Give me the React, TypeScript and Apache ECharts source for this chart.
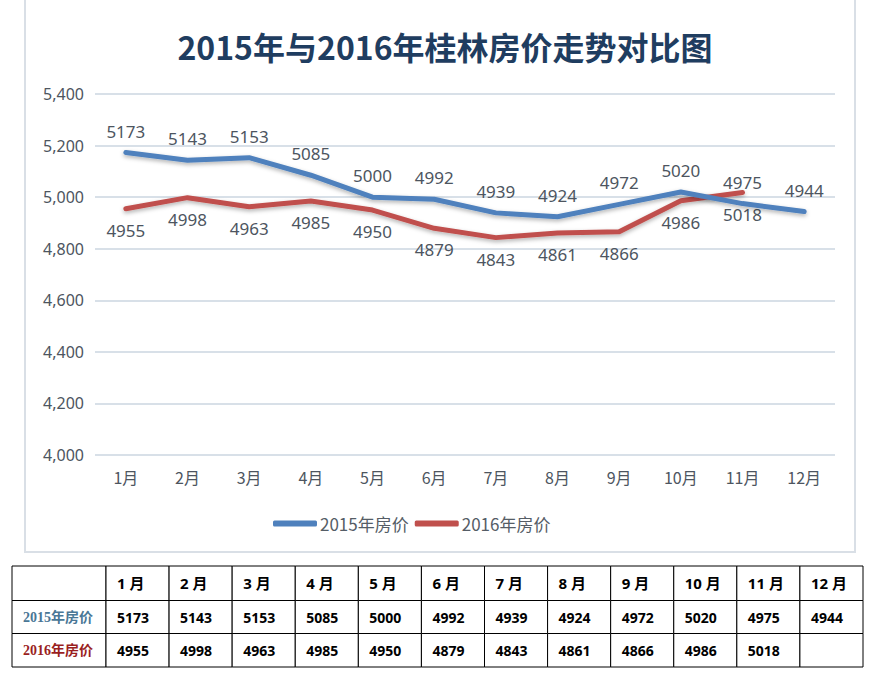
import React, { useEffect, useRef } from "react";
import * as echarts from "echarts";

const titleText = "2015年与2016年桂林房价走势对比图";
const months = ["1月", "2月", "3月", "4月", "5月", "6月", "7月", "8月", "9月", "10月", "11月", "12月"];
const seriesNames = ["2015年房价", "2016年房价"];
const price2015 = [5173, 5143, 5153, 5085, 5000, 4992, 4939, 4924, 4972, 5020, 4975, 4944];
const price2016 = [4955, 4998, 4963, 4985, 4950, 4879, 4843, 4861, 4866, 4986, 5018];
const yMin = 4000;
const yMax = 5400;
const yStep = 200;

const BLUE = "#4f81bd";
const RED = "#c0504d";

function buildTable() {
  const x0 = 12;
  const firstW = 94;
  const x1 = 863;
  const colW = (x1 - x0 - firstW) / months.length;
  const rowsY = [566, 600.5, 633.5, 667];
  const els: any[] = [];
  const colXs: number[] = [x0, x0 + firstW];
  for (let i = 1; i <= months.length; i++) colXs.push(x0 + firstW + colW * i);
  const rowsData: { label: string; color: string; values: (number | string)[] }[] = [
    { label: "", color: "#000", values: months.map((m) => m.replace("月", " 月")) },
    { label: seriesNames[0], color: "#4a7796", values: price2015 },
    { label: seriesNames[1], color: "#9a1f1f", values: price2016 },
  ];
  for (let r = 0; r < 3; r++) {
    const yTop = rowsY[r];
    const h = rowsY[r + 1] - rowsY[r];
    for (let c = 0; c < colXs.length - 1; c++) {
      els.push({
        type: "rect",
        shape: { x: colXs[c], y: yTop, width: colXs[c + 1] - colXs[c], height: h },
        style: { fill: "#ffffff", stroke: "#000000", lineWidth: 1 },
        z: 1,
      });
      let txt = "";
      let color = "#000000";
      let fam = "'Noto Sans', 'Noto Sans CJK SC', sans-serif";
      let size = r === 0 ? 15 : 14;
      if (c === 0) {
        txt = rowsData[r].label;
        color = rowsData[r].color;
        fam = "'Liberation Serif', 'Noto Sans CJK SC', serif";
        size = 14;
      } else {
        const v = rowsData[r].values[c - 1];
        txt = v === undefined ? "" : String(v);
      }
      if (txt) {
        els.push({
          type: "text",
          z: 2,
          style: {
            text: txt,
            x: colXs[c] + 11,
            y: yTop + h / 2,
            fill: color,
            fontSize: size,
            fontWeight: "bold",
            fontFamily: fam,
            align: "left",
            verticalAlign: "middle",
          },
        });
      }
    }
  }
  return els;
}

export default function App() {
  const ref = useRef<HTMLDivElement>(null);
  useEffect(() => {
    if (!ref.current) return;
    const chart = echarts.init(ref.current, null, { renderer: "svg" });
    const labelStyle = {
      show: true,
      fontSize: 17,
      color: "#4d5560",
      fontFamily: "'Noto Sans', sans-serif",
      distance: 12,
    };
    chart.setOption({
      animation: false,
      backgroundColor: "#ffffff",
      title: {
        text: titleText,
        left: 440,
        textAlign: "center",
        top: 25,
        textStyle: {
          fontSize: 32,
          fontWeight: "bold",
          color: "#1f3d60",
          fontFamily: "'Noto Sans CJK SC', sans-serif",
        },
      },
      legend: {
        left: 268,
        top: 510,
        itemWidth: 44,
        itemHeight: 6,
        itemGap: 6,
        icon: "roundRect",
        textStyle: {
          fontSize: 17,
          color: "#555d66",
          fontFamily: "'Noto Sans CJK SC', sans-serif",
          padding: [0, 0, 0, -2],
        },
        data: seriesNames,
      },
      grid: { left: 95, right: 41, top: 94, bottom: 226, containLabel: false },
      xAxis: {
        type: "category",
        data: months,
        boundaryGap: true,
        axisLine: { show: false },
        axisTick: { show: false },
        axisLabel: {
          fontSize: 16,
          color: "#4d5560",
          margin: 14,
          fontFamily: "'Noto Sans CJK SC', sans-serif",
        },
      },
      yAxis: {
        type: "value",
        min: yMin,
        max: yMax,
        interval: yStep,
        axisLine: { show: false },
        axisTick: { show: false },
        axisLabel: {
          fontSize: 16,
          color: "#4d5560",
          margin: 11,
          fontFamily: "'Noto Sans', sans-serif",
          formatter: (v: number) => v.toLocaleString("en-US"),
        },
        splitLine: { lineStyle: { color: "#d8e0e8", width: 2 } },
      },
      series: [
        {
          name: seriesNames[0],
          type: "line",
          data: price2015,
          symbol: "circle",
          symbolSize: 2,
          itemStyle: { color: BLUE },
          lineStyle: {
            color: BLUE,
            width: 5,
            shadowColor: "rgba(0,0,0,0.3)",
            shadowBlur: 4,
            shadowOffsetY: 2,
            cap: "round",
            join: "round",
          },
          label: { ...labelStyle, position: "top" },
          z: 3,
        },
        {
          name: seriesNames[1],
          type: "line",
          data: price2016,
          symbol: "circle",
          symbolSize: 2,
          itemStyle: { color: RED },
          lineStyle: {
            color: RED,
            width: 5,
            shadowColor: "rgba(0,0,0,0.3)",
            shadowBlur: 4,
            shadowOffsetY: 2,
            cap: "round",
            join: "round",
          },
          label: { ...labelStyle, position: "bottom" },
          z: 2,
        },
      ],
      graphic: [
        {
          type: "rect",
          shape: { x: 25, y: -5, width: 830, height: 557 },
          style: { fill: "none", stroke: "#d9dfe6", lineWidth: 2 },
          z: 0,
        },
        ...buildTable(),
      ],
    });
    return () => chart.dispose();
  }, []);
  return (
    <div
      ref={ref}
      style={{ position: "absolute", left: 0, top: 0, width: 876, height: 681 }}
    />
  );
}
